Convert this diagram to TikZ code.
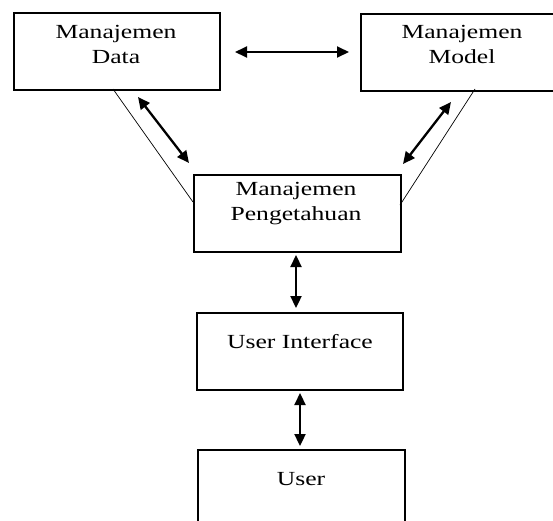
\documentclass[tikz,border=0pt]{standalone}
\usepackage{fontspec}
\setmainfont{Liberation Serif}[FakeStretch=1.28]
\usetikzlibrary{arrows.meta,calc}
\begin{document}
\begin{tikzpicture}[x=1pt,y=-1pt,
  box/.style={draw=black,line width=1.5pt,inner sep=0pt,anchor=north west},
  lbl/.style={font=\fontsize{20}{25}\selectfont,align=center,inner sep=0pt,text=black},
  dbl/.style={line width=2.3pt,{Triangle[length=12pt,width=11pt]}-{Triangle[length=12pt,width=11pt]}},
  thin/.style={line width=0.7pt}]
\useasboundingbox (0,0) rectangle (553,520);
% boxes
\node[box,minimum width=206pt,minimum height=77pt] (data) at (13,12) {};
\node[box,minimum width=194pt,minimum height=77pt] (model) at (360,13) {};
\node[box,minimum width=207pt,minimum height=77pt] (peng) at (193,174) {};
\node[box,minimum width=206pt,minimum height=77pt] (ui) at (196,312) {};
\node[box,minimum width=207pt,minimum height=80pt] (user) at (197,449) {};
% labels
\node[lbl] (tdata) at (116,44) {Manajemen\\Data};
\node[lbl] (tmodel) at (462,44) {Manajemen\\Model};
\node[lbl] (tpeng) at (296,204) {Manajemen\\Pengetahuan};
\node[lbl] (tui) at (300,342) {User Interface};
\node[lbl] (tuser) at (301,479) {User};
% thin lines
\coordinate (d1) at (113,89);
\coordinate (p1) at (193,202);
\coordinate (m1) at (475,89);
\coordinate (p2) at (400,205);
\draw[thin] (d1) -- (p1);
\draw[thin] (m1) -- (p2);
% arrows
\coordinate (h1) at (235,52);
\coordinate (h2) at (349,52);
\coordinate (a1) at (138,97);
\coordinate (a2) at (189,163);
\coordinate (b1) at (451,102);
\coordinate (b2) at (403,164);
\coordinate (v1) at (296,255);
\coordinate (v2) at (296,308);
\coordinate (w1) at (300,393);
\coordinate (w2) at (300,446);
\draw[dbl,line width=1.9pt] (h1) -- (h2);
\draw[dbl] (a1) -- (a2);
\draw[dbl] (b1) -- (b2);
\draw[dbl] (v1) -- (v2);
\draw[dbl] (w1) -- (w2);
\end{tikzpicture}
\end{document}
